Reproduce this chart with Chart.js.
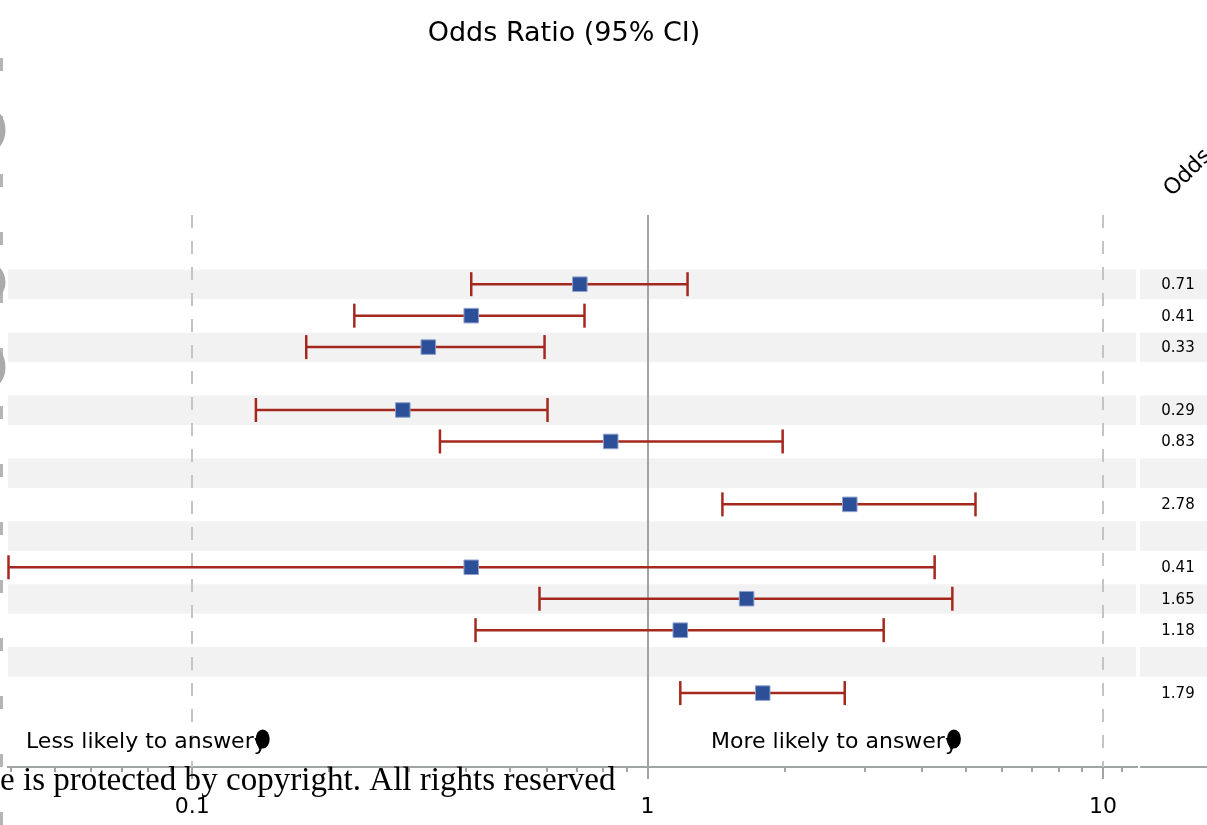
<!DOCTYPE html>
<html>
<head>
<meta charset="utf-8">
<title>Odds Ratio (95% CI)</title>
<script src="https://cdn.jsdelivr.net/npm/chart.js@4/dist/chart.umd.min.js"></script>
<style>
  html, body { margin: 0; padding: 0; background: #fff; }
  #wrap { width: 1207px; height: 825px; position: relative; overflow: hidden; }
  canvas { display: block; }
</style>
</head>
<body>
<div id="wrap"><canvas id="c" width="1207" height="825"></canvas></div>
<script>
// Row positions (0 = top row) of each estimate
const rows = [0, 1, 2, 4, 5, 7, 9, 10, 11, 13];
// Odds ratios and 95% confidence limits
const oddsRatio = [0.71, 0.41, 0.33, 0.29, 0.83, 2.78, 0.41, 1.65, 1.18, 1.79];
const lowerCI   = [0.41, 0.227, 0.178, 0.138, 0.35, 1.46, 0.0395, 0.579, 0.419, 1.18];
const upperCI   = [1.224, 0.727, 0.594, 0.603, 1.98, 5.25, 4.27, 4.67, 3.30, 2.71];
// Rows drawn with a light background band
const bandRows = [0, 2, 4, 6, 8, 10, 12];
// Axis ticks
const majorTicks = [0.1, 1, 10];
const majorLabels = ['0.1', '1', '10'];
const minorTicks = [0.04, 0.05, 0.06, 0.07, 0.08, 0.09,
                    0.2, 0.3, 0.4, 0.5, 0.6, 0.7, 0.8, 0.9,
                    2, 3, 4, 5, 6, 7, 8, 9, 11];

const FONT = '"DejaVu Sans", "Open Sans", sans-serif';
const AXIS_GREY = '#a0a4a4';
const BAR_RED = '#a5281e';
const MARK_BLUE = '#2d4f97';

// One line dataset per confidence interval; end caps are rotated line points
const ciSets = rows.map((r, i) => ({
  type: 'line',
  data: [{ x: lowerCI[i], y: r }, { x: upperCI[i], y: r }],
  borderColor: BAR_RED,
  borderWidth: 2.5,
  pointStyle: 'line',
  pointRotation: 90,
  pointRadius: 12,
  pointBorderColor: BAR_RED,
  pointBorderWidth: 2.5,
  clip: false,
  order: 2
}));

const pointSet = {
  type: 'scatter',
  data: rows.map((r, i) => ({ x: oddsRatio[i], y: r })),
  pointStyle: 'rect',
  pointRadius: 10.3,
  backgroundColor: MARK_BLUE,
  borderColor: '#8ea1cf',
  borderWidth: 1,
  order: 1
};

const decor = {
  id: 'decor',
  beforeDraw(chart) {
    const ctx = chart.ctx;
    ctx.save();
    ctx.fillStyle = '#ffffff';
    ctx.fillRect(0, 0, chart.width, chart.height);
    ctx.restore();
  },
  beforeDatasetsDraw(chart) {
    const { ctx, chartArea: a, scales: { x, y } } = chart;
    ctx.save();
    // alternating row bands, plot area and value column
    ctx.fillStyle = '#f2f2f2';
    bandRows.forEach(r => {
      const yc = y.getPixelForValue(r);
      ctx.fillRect(a.left, yc - 14.5, a.right - a.left - 1, 29.5);
      ctx.fillRect(a.right + 3, yc - 14.5, chart.width - a.right - 3, 29.5);
    });
    // dashed reference lines at 0.1 and 10
    ctx.strokeStyle = '#c4c4c4';
    ctx.lineWidth = 2;
    ctx.setLineDash([13, 13]);
    [0.1, 10].forEach(v => {
      const px = Math.round(x.getPixelForValue(v));
      ctx.beginPath();
      ctx.moveTo(px, a.top);
      ctx.lineTo(px, a.bottom);
      ctx.stroke();
    });
    ctx.setLineDash([]);
    // line of no effect
    const p1 = Math.round(x.getPixelForValue(1));
    ctx.strokeStyle = AXIS_GREY;
    ctx.lineWidth = 2;
    ctx.beginPath();
    ctx.moveTo(p1, a.top);
    ctx.lineTo(p1, a.bottom);
    ctx.stroke();
    ctx.restore();
  },
  afterDraw(chart) {
    const { ctx, chartArea: a, scales: { x, y } } = chart;
    ctx.save();
    // longer marks for the decade ticks
    ctx.strokeStyle = AXIS_GREY;
    ctx.lineWidth = 2;
    majorTicks.forEach(v => {
      const px = Math.round(x.getPixelForValue(v));
      ctx.beginPath();
      ctx.moveTo(px, a.bottom);
      ctx.lineTo(px, a.bottom + 12);
      ctx.stroke();
    });
    // axis line under the value column
    ctx.beginPath();
    ctx.moveTo(a.right + 3, a.bottom);
    ctx.lineTo(chart.width, a.bottom);
    ctx.stroke();

    // title
    ctx.fillStyle = '#000';
    ctx.font = '27px ' + FONT;
    ctx.textAlign = 'center';
    ctx.textBaseline = 'middle';
    ctx.fillText('Odds Ratio (95% CI)', 564, 34);

    // value column
    ctx.font = '15px ' + FONT;
    rows.forEach((r, i) => {
      ctx.fillText(oddsRatio[i].toFixed(2), 1178, y.getPixelForValue(r) + 1);
    });

    // column heading, rotated
    ctx.save();
    ctx.translate(1172, 197);
    ctx.rotate(-Math.PI / 4);
    ctx.font = '22px ' + FONT;
    ctx.textAlign = 'left';
    ctx.textBaseline = 'alphabetic';
    ctx.fillText('Odds Ratio', 0, 0);
    ctx.restore();

    // direction labels
    ctx.font = '22px ' + FONT;
    ctx.textAlign = 'left';
    ctx.textBaseline = 'middle';
    const dirs = [['Less likely to answer', 26], ['More likely to answer', 711]];
    dirs.forEach(([t, x0]) => {
      ctx.fillText(t, x0, 742);
      const w = ctx.measureText(t).width;
      ctx.fillText('y', x0 + w, 744);
      ctx.beginPath();
      ctx.ellipse(x0 + w + 9, 739, 7, 9.5, 0, 0, Math.PI * 2);
      ctx.fill();
    });

    // left margin: dashed rule and partial grey glyphs
    ctx.strokeStyle = '#b5b5b5';
    ctx.lineWidth = 3;
    ctx.setLineDash([13, 45]);
    ctx.beginPath();
    ctx.moveTo(1.5, 58);
    ctx.lineTo(1.5, 825);
    ctx.stroke();
    ctx.setLineDash([]);
    ctx.strokeStyle = '#aaaaaa';
    ctx.lineWidth = 7;
    [[130, 21], [282, 18], [367, 21]].forEach(([cy, r]) => {
      ctx.beginPath();
      ctx.ellipse(-16, cy, 18, r, 0, -Math.PI / 2, Math.PI / 2);
      ctx.stroke();
    });

    // footer notice
    const note = 'e is protected by copyright. All rights reserved';
    let size = 30;
    ctx.font = size + 'px "Liberation Serif", serif';
    size = size * 615 / ctx.measureText(note).width;
    ctx.font = size.toFixed(1) + 'px "Liberation Serif", serif';
    ctx.fillStyle = '#000';
    ctx.textAlign = 'left';
    ctx.textBaseline = 'alphabetic';
    ctx.fillText(note, 0, 790);
    ctx.restore();
  }
};

new Chart(document.getElementById('c'), {
  data: { datasets: [...ciSets, pointSet] },
  options: {
    responsive: false,
    animation: false,
    events: [],
    layout: { autoPadding: false, padding: { left: 8, right: 70, top: 215, bottom: 0 } },
    plugins: { legend: { display: false }, tooltip: { enabled: false }, title: { display: false } },
    scales: {
      x: {
        type: 'logarithmic',
        position: 'bottom',
        min: 0.0394,
        max: 11.88,
        border: { display: true, color: AXIS_GREY, width: 2 },
        grid: { drawOnChartArea: false, drawTicks: true, tickLength: 5, color: AXIS_GREY, lineWidth: 2 },
        afterBuildTicks: s => { s.ticks = [...minorTicks, ...majorTicks].sort((a, b) => a - b).map(v => ({ value: v })); },
        afterFit: s => { s.height = 58; s.paddingLeft = 0; s.paddingRight = 0; },
        ticks: {
          autoSkip: false,
          maxRotation: 0,
          padding: 22,
          color: '#000',
          font: { family: FONT, size: 22 },
          callback: v => { const k = majorTicks.indexOf(v); return k >= 0 ? majorLabels[k] : ''; }
        }
      },
      y: {
        type: 'linear',
        display: false,
        reverse: true,
        min: -2.2,
        max: 15.35
      }
    }
  },
  plugins: [decor]
});
</script>
</body>
</html>
